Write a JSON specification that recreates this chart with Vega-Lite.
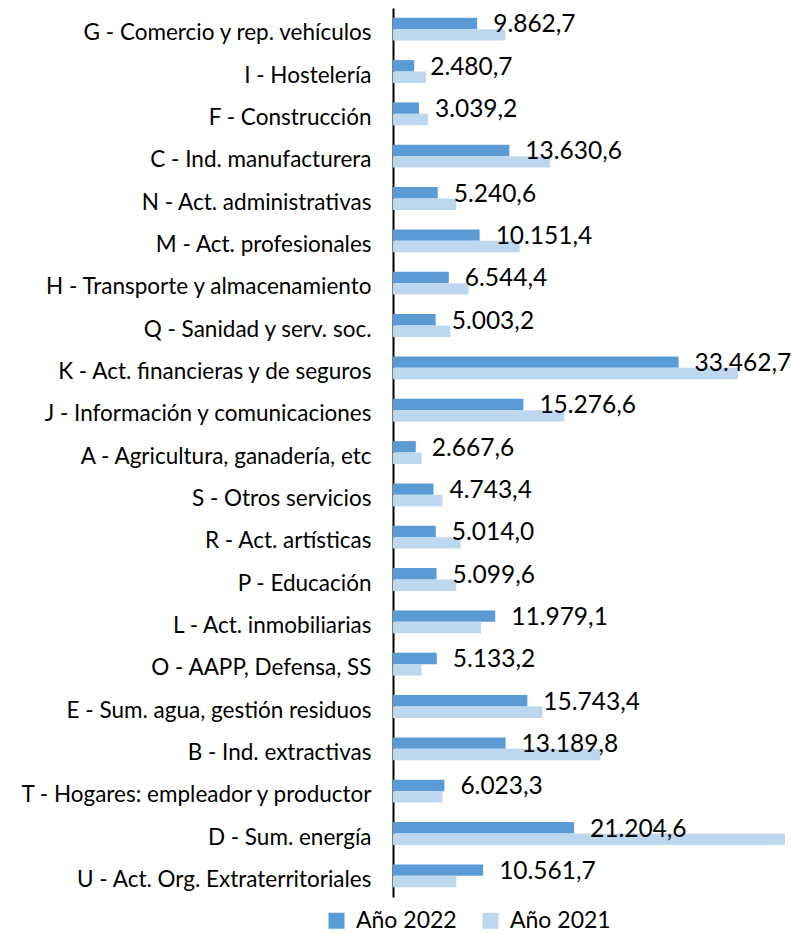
{
  "$schema": "https://vega.github.io/schema/vega-lite/v6.json",
  "width": 399,
  "height": 889,
  "autosize": "none",
  "padding": {"left": 393, "top": 8, "right": 0, "bottom": 36},
  "background": "white",
  "config": {
    "view": {"stroke": null},
    "font": "Lato",
    "locale": {"number": {"decimal": ",", "thousands": ".", "grouping": [3], "currency": ["", " €"]}}
  },
  "data": {"values": [
    {"sector": "G - Comercio y rep. vehículos", "year": "Año 2022", "value": 9862.7},
    {"sector": "G - Comercio y rep. vehículos", "year": "Año 2021", "value": 13158},
    {"sector": "I - Hostelería", "year": "Año 2022", "value": 2480.7},
    {"sector": "I - Hostelería", "year": "Año 2021", "value": 3866},
    {"sector": "F - Construcción", "year": "Año 2022", "value": 3039.2},
    {"sector": "F - Construcción", "year": "Año 2021", "value": 4101},
    {"sector": "C - Ind. manufacturera", "year": "Año 2022", "value": 13630.6},
    {"sector": "C - Ind. manufacturera", "year": "Año 2021", "value": 18430},
    {"sector": "N - Act. administrativas", "year": "Año 2022", "value": 5240.6},
    {"sector": "N - Act. administrativas", "year": "Año 2021", "value": 7417},
    {"sector": "M - Act. profesionales", "year": "Año 2022", "value": 10151.4},
    {"sector": "M - Act. profesionales", "year": "Año 2021", "value": 14833},
    {"sector": "H - Transporte y almacenamiento", "year": "Año 2022", "value": 6544.4},
    {"sector": "H - Transporte y almacenamiento", "year": "Año 2021", "value": 8858},
    {"sector": "Q - Sanidad y serv. soc.", "year": "Año 2022", "value": 5003.2},
    {"sector": "Q - Sanidad y serv. soc.", "year": "Año 2021", "value": 6714},
    {"sector": "K - Act. financieras y de seguros", "year": "Año 2022", "value": 33462.7},
    {"sector": "K - Act. financieras y de seguros", "year": "Año 2021", "value": 40422},
    {"sector": "J - Información y comunicaciones", "year": "Año 2022", "value": 15276.6},
    {"sector": "J - Información y comunicaciones", "year": "Año 2021", "value": 20070},
    {"sector": "A - Agricultura, ganadería, etc", "year": "Año 2022", "value": 2667.6},
    {"sector": "A - Agricultura, ganadería, etc", "year": "Año 2021", "value": 3351},
    {"sector": "S - Otros servicios", "year": "Año 2022", "value": 4743.4},
    {"sector": "S - Otros servicios", "year": "Año 2021", "value": 5776},
    {"sector": "R - Act. artísticas", "year": "Año 2022", "value": 5014.0},
    {"sector": "R - Act. artísticas", "year": "Año 2021", "value": 7920},
    {"sector": "P - Educación", "year": "Año 2022", "value": 5099.6},
    {"sector": "P - Educación", "year": "Año 2021", "value": 7417},
    {"sector": "L - Act. inmobiliarias", "year": "Año 2022", "value": 11979.1},
    {"sector": "L - Act. inmobiliarias", "year": "Año 2021", "value": 10310},
    {"sector": "O - AAPP, Defensa, SS", "year": "Año 2022", "value": 5133.2},
    {"sector": "O - AAPP, Defensa, SS", "year": "Año 2021", "value": 3351},
    {"sector": "E - Sum. agua, gestión residuos", "year": "Año 2022", "value": 15743.4},
    {"sector": "E - Sum. agua, gestión residuos", "year": "Año 2021", "value": 17493},
    {"sector": "B - Ind. extractivas", "year": "Año 2022", "value": 13189.8},
    {"sector": "B - Ind. extractivas", "year": "Año 2021", "value": 24289},
    {"sector": "T - Hogares: empleador y productor", "year": "Año 2022", "value": 6023.3},
    {"sector": "T - Hogares: empleador y productor", "year": "Año 2021", "value": 5776},
    {"sector": "D - Sum. energía ", "year": "Año 2022", "value": 21204.6},
    {"sector": "D - Sum. energía ", "year": "Año 2021", "value": 45929},
    {"sector": "U - Act. Org. Extraterritoriales", "year": "Año 2022", "value": 10561.7},
    {"sector": "U - Act. Org. Extraterritoriales", "year": "Año 2021", "value": 7417}
  ]},
  "encoding": {
    "y": {
      "field": "sector", "type": "nominal", "sort": null,
      "scale": {"paddingInner": 0.46, "paddingOuter": 0.23},
      "axis": {
        "title": null, "ticks": false, "grid": false,
        "domainColor": "#000000", "domainWidth": 2,
        "labelFont": "Lato", "labelFontSize": 22.5, "labelColor": "#000000",
        "labelPadding": 22, "labelBaseline": "alphabetic", "labelOffset": 11,
        "labelLimit": 400
      }
    }
  },
  "layer": [
    {
      "mark": {"type": "bar"},
      "encoding": {
        "x": {"field": "value", "type": "quantitative", "scale": {"domain": [0, 46750], "nice": false, "zero": true}, "axis": null},
        "yOffset": {"field": "year", "type": "nominal", "sort": ["Año 2022", "Año 2021"]},
        "color": {
          "field": "year", "type": "nominal",
          "scale": {"domain": ["Año 2022", "Año 2021"], "range": ["#5B9BD5", "#BDD7EE"]},
          "legend": {
            "title": null, "orient": "none", "legendX": -68, "legendY": 901,
            "direction": "horizontal", "columns": 2, "columnPadding": 22,
            "symbolType": "square", "symbolSize": 256, "symbolStrokeWidth": 0,
            "labelFont": "Lato", "labelFontSize": 23, "labelColor": "#000000", "labelOffset": 8
          }
        }
      }
    },
    {
      "transform": [{"filter": "datum.year === 'Año 2022'"}],
      "mark": {"type": "text", "align": "left", "baseline": "middle", "dx": 16, "dy": -4, "font": "Lato", "fontSize": 24.5, "color": "#000000"},
      "encoding": {
        "x": {"field": "value", "type": "quantitative"},
        "text": {"field": "value", "type": "quantitative", "format": ",.1f"}
      }
    }
  ]
}
